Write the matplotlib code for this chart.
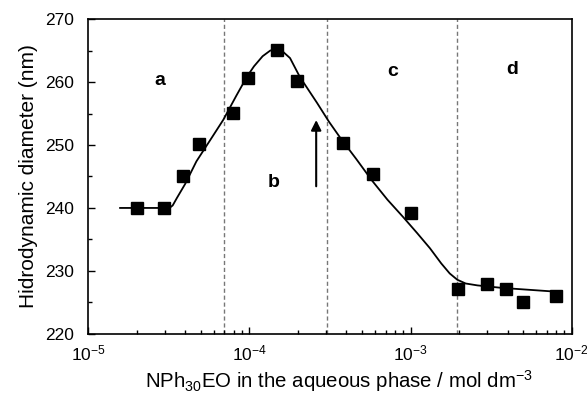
import matplotlib
matplotlib.use("Agg")
import matplotlib.pyplot as plt
from matplotlib.ticker import LogLocator, NullFormatter, MultipleLocator

plt.rcParams['font.family'] = ['Liberation Sans', 'DejaVu Sans']
plt.rcParams['mathtext.fontset'] = 'custom'
plt.rcParams['mathtext.rm'] = 'Liberation Sans'
plt.rcParams['mathtext.it'] = 'Liberation Sans'
plt.rcParams['mathtext.default'] = 'regular'

# measured points
conc = [2.0e-5, 2.96e-5, 3.88e-5, 4.88e-5, 7.93e-5, 9.8e-5, 1.49e-4, 1.98e-4,
        3.81e-4, 5.85e-4, 1.0e-3, 1.97e-3, 2.98e-3, 3.9e-3, 4.98e-3, 7.96e-3]
diam = [240.0, 240.0, 245.1, 250.2, 255.1, 260.6, 265.1, 260.2,
        250.3, 245.4, 239.2, 227.1, 227.9, 227.1, 225.1, 226.0]

# guide curve
curve_x = [1.58e-5, 3.2e-5, 3.35e-5, 3.56e-5, 4.0e-5, 4.7e-5, 5.9e-5, 6.9e-5,
           8.3e-5, 9.7e-5, 1.07e-4, 1.21e-4, 1.35e-4, 1.49e-4, 1.62e-4, 1.79e-4,
           2.06e-4, 2.63e-4, 3.12e-4, 3.7e-4, 4.6e-4, 5.75e-4, 7.2e-4, 8.97e-4,
           1.1e-3, 1.32e-3, 1.55e-3, 1.75e-3, 1.95e-3, 2.2e-3, 2.6e-3, 3.7e-3, 8.0e-3]
curve_y = [240.0, 240.0, 240.4, 241.6, 243.8, 247.4, 251.3, 254.0,
           257.8, 260.9, 262.5, 264.1, 265.0, 265.2, 264.8, 263.8,
           260.8, 256.7, 253.7, 251.0, 247.8, 244.4, 241.3, 238.6,
           236.0, 233.6, 231.2, 229.6, 228.6, 228.0, 227.7, 227.3, 226.7]

# region boundaries and labels
bounds = [7.0e-5, 3.05e-4, 1.95e-3]
region_labels = ['a', 'b', 'c', 'd']
label_x = [2.79e-5, 1.42e-4, 7.7e-4, 4.26e-3]
label_y = [260.3, 244.0, 261.6, 262.0]

fig = plt.figure(figsize=(5.87, 3.97), dpi=100)
ax = fig.add_axes([0.150, 0.159, 0.824, 0.793])

for b in bounds:
    ax.axvline(b, color='#777777', linestyle=(0, (3, 2)), linewidth=1.0, zorder=1)

ax.plot(curve_x, curve_y, color='black', linewidth=1.3, zorder=2,
        solid_joinstyle='round')
ax.plot(conc, diam, linestyle='none', marker='s', markersize=8.5, color='black', zorder=3)

for t, x, y in zip(region_labels, label_x, label_y):
    ax.text(x, y, t, fontsize=14, fontweight='bold', ha='center', va='center')

ax.annotate('', xy=(2.6e-4, 254.4), xytext=(2.6e-4, 243.0),
            arrowprops=dict(arrowstyle='-|>', color='black', lw=1.5,
                            mutation_scale=15))

ax.set_xscale('log')
ax.set_xlim(1e-5, 1e-2)
ax.set_ylim(220, 270)
ax.set_xticks([1e-5, 1e-4, 1e-3, 1e-2])
ax.set_xticklabels(['10$^{-5}$', '10$^{-4}$', '10$^{-3}$', '10$^{-2}$'])
ax.xaxis.set_minor_locator(LogLocator(base=10, subs=range(2, 10)))
ax.xaxis.set_minor_formatter(NullFormatter())
ax.yaxis.set_major_locator(MultipleLocator(10))
ax.yaxis.set_minor_locator(MultipleLocator(5))

ax.tick_params(which='both', direction='in', top=False, right=False, labelsize=12.5)
ax.tick_params(axis='x', which='major', pad=7)
ax.tick_params(axis='y', which='major', pad=10)
ax.tick_params(which='major', length=5, width=1)
ax.tick_params(which='minor', length=3, width=1)
for s in ax.spines.values():
    s.set_linewidth(1.2)

ax.set_xlabel('NPh$_{30}$EO in the aqueous phase / mol dm$^{-3}$', fontsize=14.7)
ax.xaxis.set_label_coords(0.519, -0.108)
ax.set_ylabel('Hidrodynamic diameter (nm)', fontsize=15, labelpad=5)

fig.savefig('out.png', dpi=100)
